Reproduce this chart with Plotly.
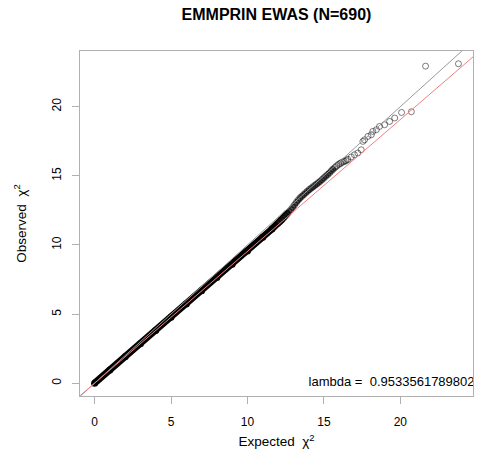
import plotly.graph_objects as go

# ---- data ----
lambda_value = 0.953356178980215
title_text = "EMMPRIN EWAS (N=690)"

# dense (saturated) part of the QQ band: expected, observed
band_expected = [0.0, 1.0, 2.0, 3.0, 4.0, 5.0, 6.0, 7.0, 8.0, 9.0, 10.0, 11.0, 11.6, 12.2, 12.6]
band_observed = [0.0, 0.95, 1.91, 2.86, 3.81, 4.77, 5.72, 6.68, 7.64, 8.6, 9.56, 10.55, 11.15, 11.8, 12.3]

# transitional part (individual circles start to be distinguishable)
mid_expected = [12.0, 12.12, 12.24, 12.36, 12.48, 12.6, 12.72, 12.84, 12.96, 13.08, 13.2, 13.32,
                13.44, 13.56, 13.68, 13.8, 13.92, 14.04, 14.16, 14.28, 14.4, 14.52, 14.64, 14.76,
                14.88, 15.0, 15.12, 15.24, 15.36, 15.48, 15.6, 15.72, 15.84, 15.96, 16.08, 16.2,
                16.32, 16.44, 16.56]
mid_observed = [11.55, 11.68, 11.82, 11.95, 12.1, 12.25, 12.4, 12.55, 12.72, 12.9, 13.08, 13.25,
                13.4, 13.52, 13.64, 13.76, 13.88, 14.0, 14.1, 14.2, 14.3, 14.4, 14.5, 14.6,
                14.72, 14.85, 14.97, 15.08, 15.2, 15.35, 15.48, 15.6, 15.72, 15.82, 15.9, 15.98,
                16.04, 16.1, 16.18]

# sparse top points
top_expected = [16.79, 17.0, 17.22, 17.44, 17.55, 17.66, 17.88, 18.1, 18.2, 18.43, 18.64, 18.97,
                19.3, 19.63, 20.08, 20.72, 21.65, 23.8]
top_observed = [16.36, 16.52, 16.65, 16.88, 17.49, 17.6, 17.85, 17.97, 18.21, 18.33, 18.57, 18.69,
                18.93, 19.18, 19.58, 19.63, 22.93, 23.1]

x_range = [-0.952, 24.752]
y_range = [-0.924, 24.024]
tick_vals = [0, 5, 10, 15, 20]
line_ends = [-5, 40]

font_family = "Liberation Sans, Arial, Helvetica, sans-serif"
circle_color = "rgba(0,0,0,0.5)"

fig = go.Figure()

# saturated band
fig.add_trace(go.Scatter(
    x=band_expected, y=band_observed, mode="lines+markers",
    line=dict(color="black", width=7),
    marker=dict(symbol="circle", size=7, color="black"),
    hoverinfo="skip", showlegend=False))

# darker underlay for the overlapping transitional circles
fig.add_trace(go.Scatter(
    x=mid_expected[:32], y=mid_observed[:32], mode="lines",
    line=dict(color="rgba(40,40,40,0.8)", width=5),
    hoverinfo="skip", showlegend=False))

# transitional circles
fig.add_trace(go.Scatter(
    x=mid_expected, y=mid_observed, mode="markers",
    marker=dict(symbol="circle-open", size=6, color=circle_color, line=dict(width=1.2, color=circle_color)),
    showlegend=False))

# top circles
fig.add_trace(go.Scatter(
    x=top_expected, y=top_observed, mode="markers",
    marker=dict(symbol="circle-open", size=6, color=circle_color, line=dict(width=1, color=circle_color)),
    showlegend=False))

# identity line (grey)
fig.add_trace(go.Scatter(
    x=line_ends, y=line_ends, mode="lines",
    line=dict(color="#9a9a9a", width=1), hoverinfo="skip", showlegend=False))

# lambda line (red)
fig.add_trace(go.Scatter(
    x=line_ends, y=[v * lambda_value for v in line_ends], mode="lines",
    line=dict(color="#f08080", width=1), hoverinfo="skip", showlegend=False))

# lambda label (clipped at the plot edge like the reference)
fig.add_trace(go.Scatter(
    x=[14.0], y=[0.0], mode="text",
    text=["lambda =\u00a0\u00a0" + repr(lambda_value)],
    textposition="middle right",
    textfont=dict(family=font_family, size=13, color="black"),
    cliponaxis=True, hoverinfo="skip", showlegend=False))

axis_common = dict(
    showgrid=False, zeroline=False, automargin=False,
    showline=True, mirror=True, linecolor="#b0b0b0", linewidth=1,
    ticks="outside", ticklen=7, tickcolor="#b0b0b0", tickwidth=1,
    tickvals=tick_vals, ticktext=[str(v) for v in tick_vals],
    tickfont=dict(family=font_family, size=12, color="black"),
)

# the page body adds an 8px offset, so the figure is 8px smaller and margins shifted
fig.update_layout(
    width=476, height=458,
    margin=dict(l=72, r=11, t=43, b=70, autoexpand=False),
    paper_bgcolor="white", plot_bgcolor="white",
    title=dict(text="<b>" + title_text + "</b>", x=0.564, xanchor="center", y=0.985, yanchor="middle",
               font=dict(family=font_family, size=16, color="black")),
    xaxis=dict(range=x_range, **axis_common, ticklabelstandoff=8,
               title=dict(text="Expected  \u03c7<sup>2</sup>", standoff=8,
                          font=dict(family=font_family, size=13.5, color="black"))),
    yaxis=dict(range=y_range, tickangle=-90, **axis_common, ticklabelstandoff=6,
               title=dict(text="Observed  \u03c7<sup>2</sup>", standoff=20,
                          font=dict(family=font_family, size=13.5, color="black"))),
)

fig.write_html("out.html")
